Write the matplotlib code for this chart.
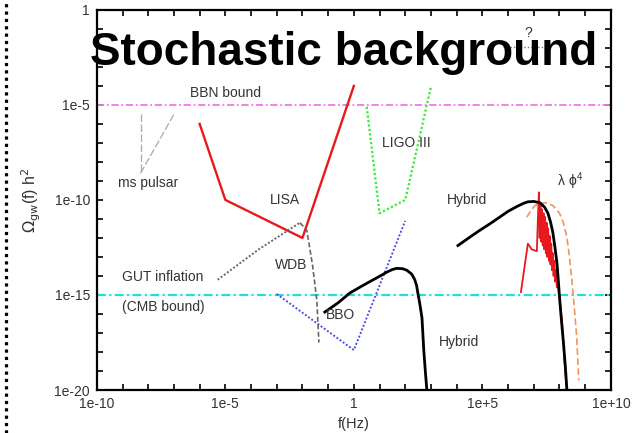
import numpy as np
import matplotlib
matplotlib.use("Agg")
import matplotlib.pyplot as plt
from matplotlib.lines import Line2D

plt.rcParams['font.family'] = ['Liberation Sans', 'DejaVu Sans']

# ---- data (log10 frequency [Hz], log10 Omega_gw h^2) ----
lisa_logf = [-6, -5, -2, 0]
lisa_logo = [-6, -10, -12, -4]

ligo_logf = [0.5, 1.0, 2.0, 3.0]
ligo_logo = [-5.1, -10.7, -10.0, -4.05]

bbo_logf = [-3.0, 0.0, 2.0]
bbo_logo = [-14.95, -17.9, -11.1]

pulsar_vert_logf = [-8.3, -8.3]
pulsar_vert_logo = [-5.5, -8.6]
pulsar_diag_logf = [-8.3, -7.0]
pulsar_diag_logo = [-8.6, -5.5]

gut_logf = [-5.3, -3.7, -2.1]
gut_logo = [-14.2, -12.6, -11.2]

wdb_logf = [-2.1, -1.83, -1.6, -1.44, -1.36]
wdb_logo = [-11.2, -11.6, -13.5, -15.3, -17.5]

hybrid1_logf = [-1.13, -0.6, -0.16, 0.25, 0.62, 1.0, 1.28, 1.5, 1.67, 1.9, 2.06, 2.25, 2.37,
                2.44, 2.49, 2.57, 2.65, 2.72, 2.78, 2.84]
hybrid1_logo = [-15.9, -15.4, -14.9, -14.58, -14.3, -14.02, -13.8, -13.66, -13.6, -13.62, -13.7, -13.9, -14.2,
                -14.5, -14.9, -15.5, -16.2, -17.9, -19.0, -20.0]

hybrid2_logf = [4.05, 4.5, 4.9, 5.3, 5.68, 6.0, 6.34, 6.6, 6.77, 7.0, 7.24, 7.42, 7.55, 7.65,
                7.74, 7.82, 7.9, 7.95, 8.0, 8.08, 8.16, 8.23, 8.29]
hybrid2_logo = [-12.4, -11.97, -11.6, -11.25, -10.9, -10.6, -10.35, -10.18, -10.1, -10.08, -10.15, -10.38, -10.7, -11.15,
                -11.7, -12.45, -13.3, -14.15, -15.1, -16.4, -17.6, -18.8, -20.0]

lphi4_logf = [6.73, 6.9, 7.04, 7.25, 7.5, 7.75, 8.0, 8.15, 8.28, 8.38, 8.48, 8.58, 8.67, 8.75]
lphi4_logo = [-10.9, -10.55, -10.3, -10.18, -10.15, -10.3, -10.7, -11.2, -11.9, -12.9, -14.2, -15.7, -17.2, -19.5]

red_hi_logf = [6.5, 6.77, 6.92, 7.12, 7.16, 7.2, 7.23, 7.26, 7.29, 7.32, 7.35, 7.38, 7.41,
               7.44, 7.47, 7.5, 7.53, 7.56, 7.59, 7.62, 7.65, 7.68, 7.71, 7.74, 7.77,
               7.8, 7.83, 7.86, 7.9, 7.95, 8.0, 8.1, 8.2, 8.28]
red_hi_logo = [-14.85, -12.3, -12.6, -12.7, -11.0, -9.6, -12.0, -10.3, -12.2, -10.5, -12.4, -10.7, -12.6,
               -10.9, -12.8, -11.2, -13.0, -11.5, -13.2, -11.9, -13.4, -12.3, -13.7, -12.8, -14.0,
               -13.2, -14.3, -13.7, -14.6, -14.6, -15.1, -16.4, -18.6, -20.0]

question_logf = [5.8, 7.5]
question_logo = [-1.95, -1.95]

bbn_level = 1e-5
cmb_level = 1e-15

xtick_exps = list(range(-10, 11))
ytick_exps = list(range(-20, 1))
xtick_labels = {-10: '1e-10', -5: '1e-5', 0: '1', 5: '1e+5', 10: '1e+10'}
ytick_labels = {-20: '1e-20', -15: '1e-15', -10: '1e-10', -5: '1e-5', 0: '1'}


def p(a):
    return 10.0 ** np.asarray(a, dtype=float)


fig = plt.figure(figsize=(6.37, 4.33), dpi=100)
ax = fig.add_axes([0.152, 0.0993, 0.807, 0.878])
ax.set_xscale('log')
ax.set_yscale('log')
ax.set_xlim(1e-10, 1e10)
ax.set_ylim(1e-20, 1)

# bounds
ax.axhline(bbn_level, color='#ee77ee', lw=1.3, ls=(0, (4, 1.5, 1, 1.5)))
ax.axhline(cmb_level, color='#22dddd', lw=1.6, ls=(0, (4, 1.5, 1, 1.5)))

# curves
ax.plot(p(pulsar_vert_logf), p(pulsar_vert_logo), color='#aaaaaa', lw=0.9, ls=(0, (6, 2)))
ax.plot(p(pulsar_diag_logf), p(pulsar_diag_logo), color='#aaaaaa', lw=0.9, ls=(0, (6, 2)))
ax.plot(p(lisa_logf), p(lisa_logo), color='#e8191e', lw=1.7)
ax.plot(p(ligo_logf), p(ligo_logo), color='#33ee33', lw=1.6, ls=(0, (1, 1)))
ax.plot(p(bbo_logf), p(bbo_logo), color='#4d4de8', lw=1.4, ls=(0, (1, 1)))
ax.plot(p(gut_logf), p(gut_logo), color='#666666', lw=1.4, ls=(0, (1, 1)))
ax.plot(p(wdb_logf), p(wdb_logo), color='#666666', lw=1.2, ls=(0, (3, 1.5)))
ax.plot(p(hybrid1_logf), p(hybrid1_logo), color='black', lw=2.0, solid_joinstyle='round')
ax.plot(p(lphi4_logf), p(lphi4_logo), color='#f4935a', lw=1.2, ls=(0, (4, 2)))
ax.plot(p(red_hi_logf), p(red_hi_logo), color='#e8191e', lw=1.3)
ax.plot(p(hybrid2_logf), p(hybrid2_logo), color='black', lw=2.0, solid_joinstyle='round')
ax.plot(p(question_logf), p(question_logo), color='#6666ee', lw=1.0, ls=(0, (1, 1.5)))

# ticks
ax.set_xticks(p(xtick_exps))
ax.set_xticklabels([xtick_labels.get(e, '') for e in xtick_exps])
ax.set_yticks(p(ytick_exps))
ax.set_yticklabels([ytick_labels.get(e, '') for e in ytick_exps])
ax.minorticks_off()
ax.tick_params(which='major', direction='in', length=4, width=1.2,
               top=True, right=True, labelsize=10, labelcolor='#333333', pad=5)
for s in ax.spines.values():
    s.set_linewidth(1.6)
    s.set_color('black')

ax.set_xlabel('f(Hz)', fontsize=10.5, color='#333333', labelpad=4)
ax.set_ylabel(r'$\Omega_{\mathrm{gw}}$(f) h$^2$', fontsize=11.5, color='#333333', labelpad=8)

# annotations
txtkw = dict(fontsize=10, color='#333333', ha='center', va='center')
def T(px, py, s, **kw):
    d = dict(txtkw)
    d.update(kw)
    fig.text(px / 637, 1 - py / 433, s, **d)

T(226, 93, 'BBN bound')
T(148, 183, 'ms pulsar')
T(285, 200, 'LISA')
T(406, 143, 'LIGO III')
T(467, 200, 'Hybrid')
T(570, 181, r'$\mathregular{\lambda\ \phi^4}$')
T(291, 265, 'WDB')
T(163, 277, 'GUT inflation')
T(163, 307, '(CMB bound)')
T(341, 315, 'BBO')
T(459, 342, 'Hybrid')
T(528, 33, '?', fontsize=10)

# title
fig.text(344 / 637, 1 - 65 / 433, 'Stochastic background', fontsize=33,
         fontweight='bold', color='black', ha='center', va='baseline')

# dotted border on left
fig.add_artist(Line2D([6 / 637, 6 / 637], [0, 1], transform=fig.transFigure,
                      color='black', lw=2.3, ls=(0, (1, 1.3))))

fig.savefig('out.png', dpi=100)
